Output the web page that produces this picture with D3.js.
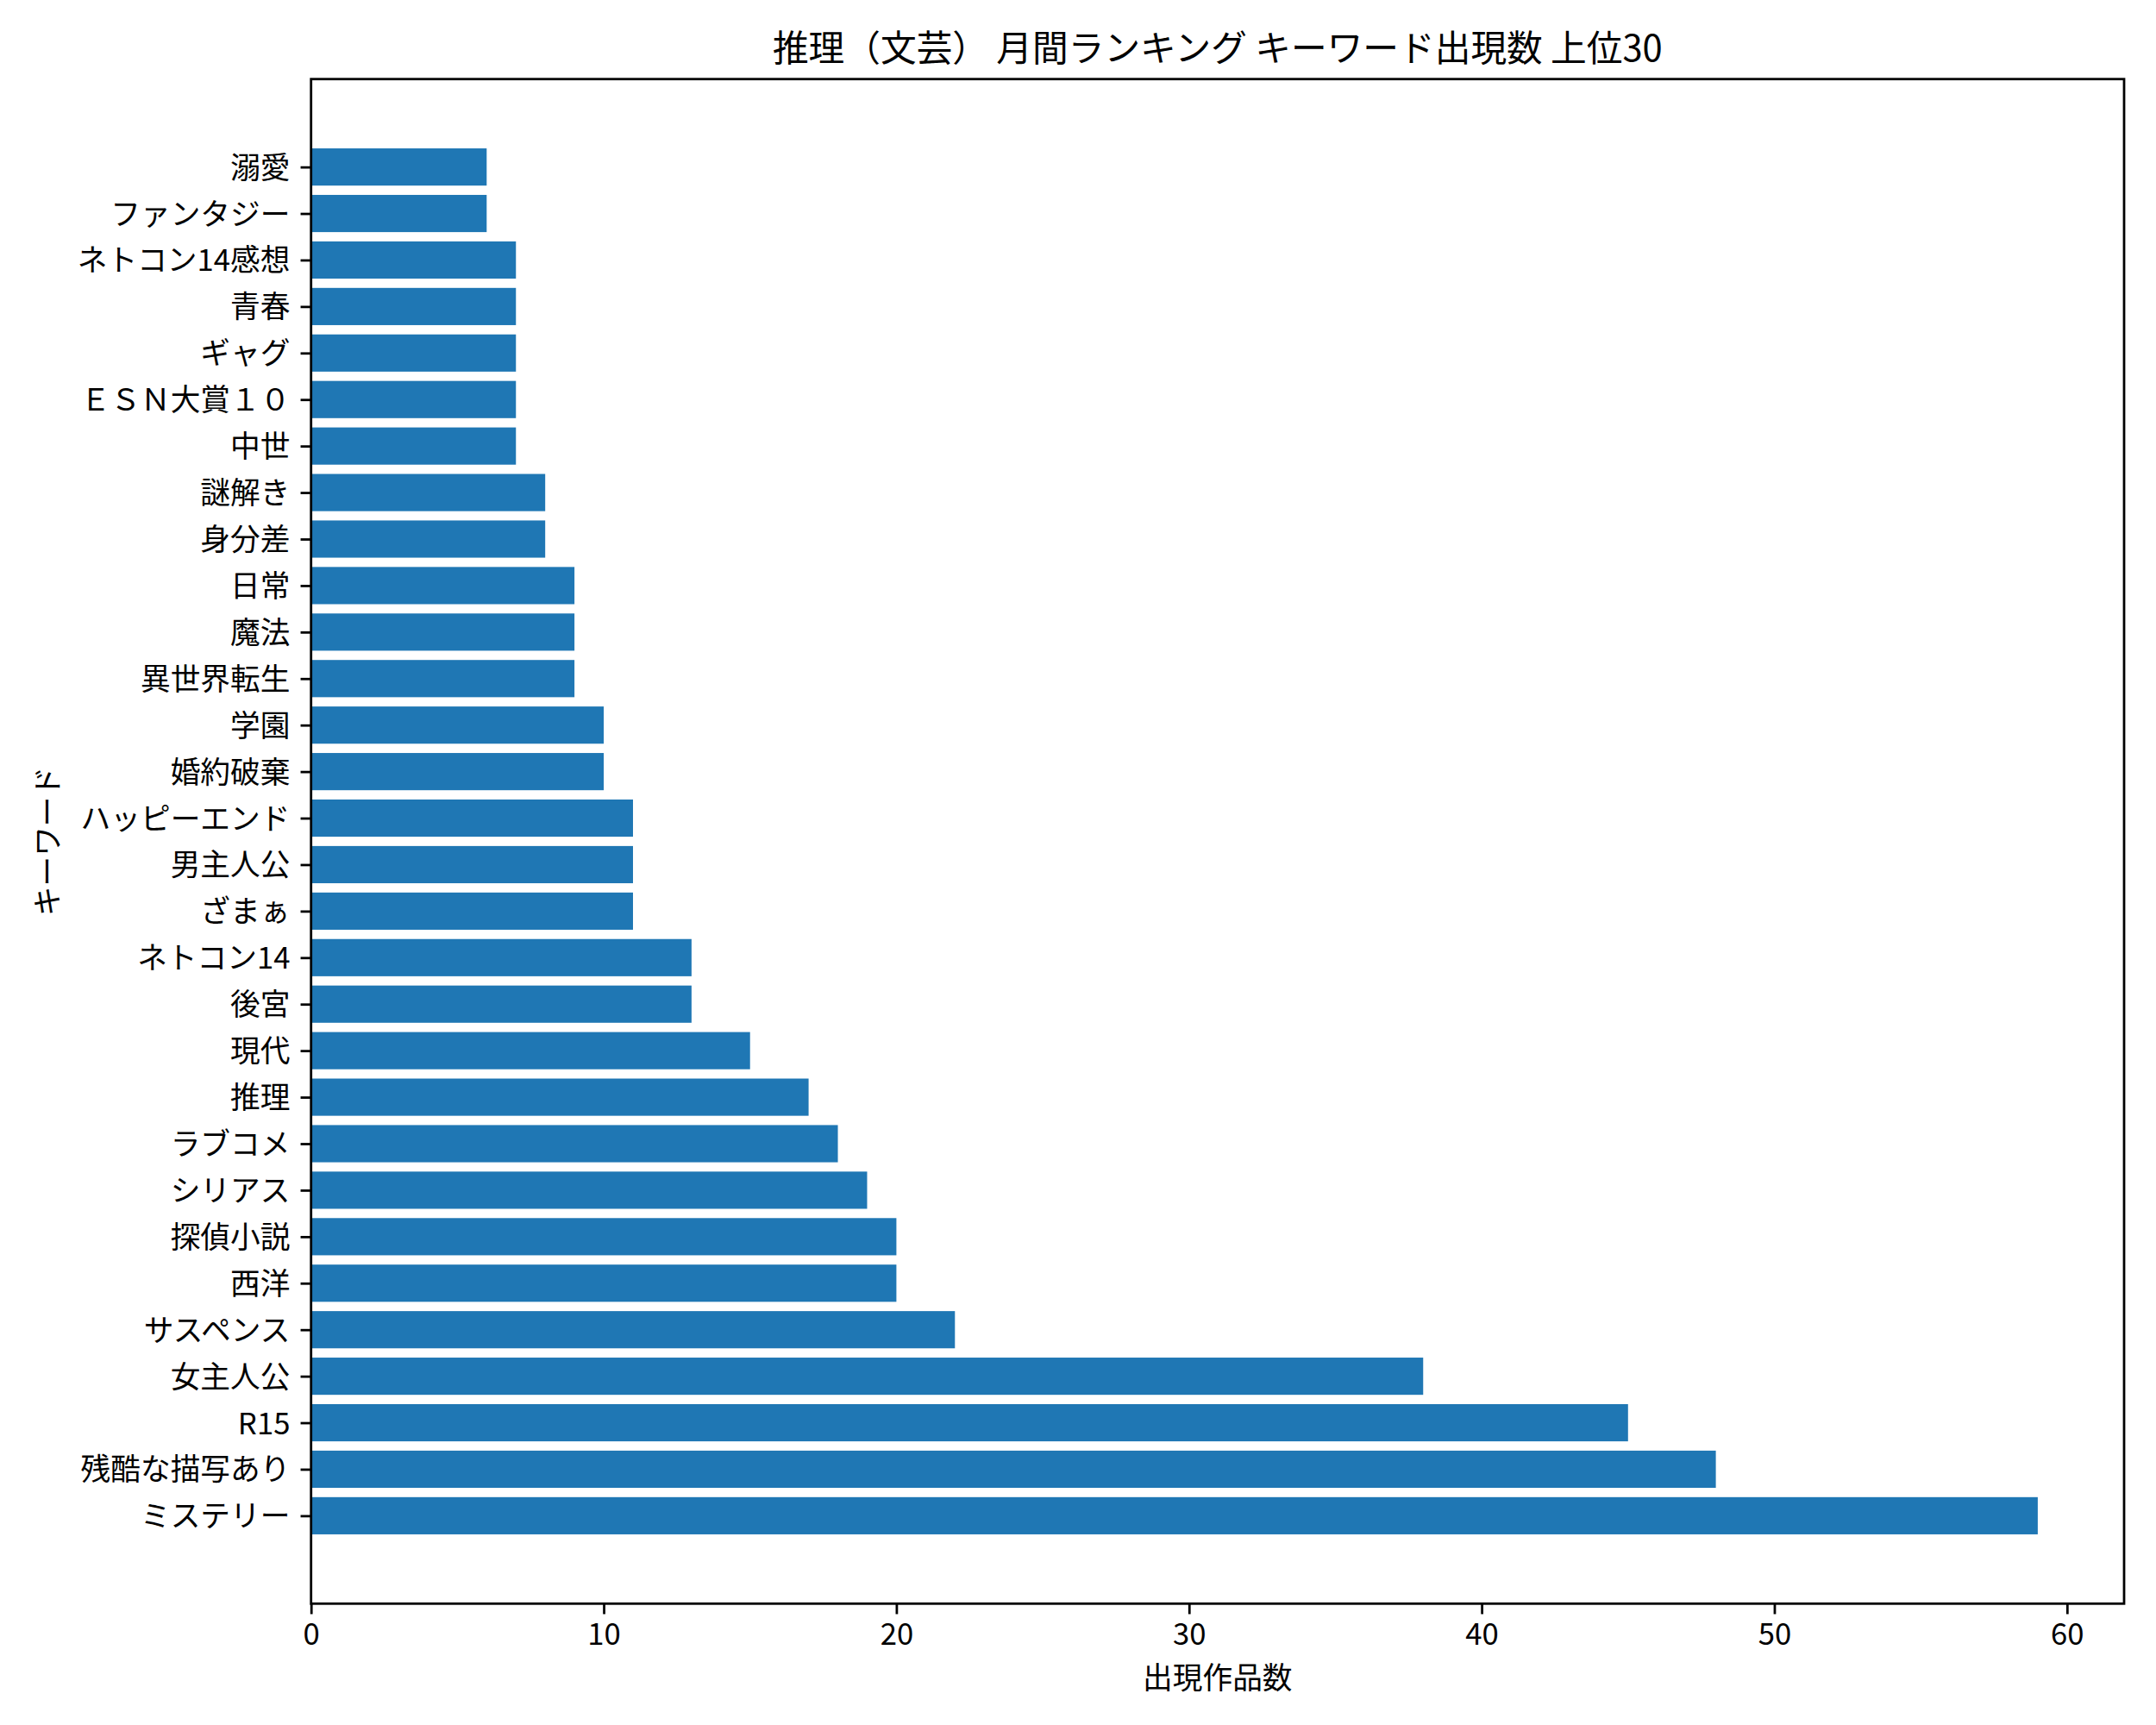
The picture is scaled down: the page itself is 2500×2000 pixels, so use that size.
<!DOCTYPE html>
<html>
<head>
<meta charset="utf-8">
<script src="https://cdn.jsdelivr.net/npm/d3@7"></script>
<style>
  html, body { margin: 0; padding: 0; background: #fff; }
  svg { display: block; }
  text { font-family: "Noto Sans CJK JP", "Noto Sans", sans-serif; fill: #000; }
</style>
</head>
<body>
<svg id="chart" width="2500" height="2000"></svg>
<script>
// Data (bottom to top as plotted)
const keywords = ["ミステリー","残酷な描写あり","R15","女主人公","サスペンス","西洋","探偵小説","シリアス","ラブコメ","推理",
  "現代","後宮","ネトコン14","ざまぁ","男主人公","ハッピーエンド","婚約破棄","学園","異世界転生","魔法",
  "日常","身分差","謎解き","中世","ＥＳＮ大賞１０","ギャグ","青春","ネトコン14感想","ファンタジー","溺愛"];
const counts = [59,48,45,38,22,20,20,19,18,17,
  15,13,13,11,11,11,10,10,9,9,
  9,8,8,7,7,7,7,7,6,6];
const xTicks = [0,10,20,30,40,50,60];
const titleText = "推理（文芸） 月間ランキング キーワード出現数 上位30";
const xLabel = "出現作品数";
const yLabel = "キーワード";

const W = 2500, H = 2000;
const m = {left: 360.7, right: 2463, top: 91.7, bottom: 1859.3};
const svg = d3.select("#chart");

const barH = 0.8;
const n = keywords.length;
const yMin = -barH/2, yMax = (n-1) + barH/2;
const yPad = (yMax - yMin) * 0.05;
const xMax = d3.max(counts);

const x = d3.scaleLinear().domain([0, xMax * 1.05]).range([m.left, m.right]);
const y = d3.scaleLinear().domain([yMin - yPad, yMax + yPad]).range([m.bottom, m.top]);

const data = keywords.map((k, i) => ({k, v: counts[i], i}));

// bars
svg.append("g").selectAll("rect").data(data).enter().append("rect")
  .attr("x", x(0))
  .attr("y", d => y(d.i + barH/2))
  .attr("width", d => x(d.v) - x(0))
  .attr("height", d => y(d.i - barH/2) - y(d.i + barH/2))
  .attr("fill", "#1f77b4");

const fs = 34.7;
const tickLen = 12.15, tickPad = 12.15, lw = 2.78;

// x axis
const xAxis = d3.axisBottom(x).tickValues(xTicks).tickSize(tickLen).tickPadding(tickPad).tickFormat(d3.format("d"));
const gx = svg.append("g").attr("transform", `translate(0,${m.bottom})`).call(xAxis);
gx.select(".domain").remove();
gx.selectAll(".tick line").attr("stroke", "#000").attr("stroke-width", lw);
gx.selectAll(".tick text").style("font-size", fs + "px").attr("fill", "#000")
  .attr("y", 0).attr("dy", 0).attr("transform", `translate(0,${tickLen + tickPad + 23})`);

// y axis
const yAxis = d3.axisLeft(y).tickValues(d3.range(n)).tickSize(tickLen).tickPadding(tickPad).tickFormat(i => keywords[i]);
const gy = svg.append("g").attr("transform", `translate(${m.left},0)`).call(yAxis);
gy.select(".domain").remove();
gy.selectAll(".tick line").attr("stroke", "#000").attr("stroke-width", lw);
gy.selectAll(".tick text").style("font-size", fs + "px").attr("fill", "#000").attr("dy", "0.36em");

// frame
svg.append("rect")
  .attr("x", m.left).attr("y", m.top)
  .attr("width", m.right - m.left).attr("height", m.bottom - m.top)
  .attr("fill", "none").attr("stroke", "#000").attr("stroke-width", lw);

// title
svg.append("text")
  .attr("x", (m.left + m.right)/2).attr("y", 70.5)
  .attr("text-anchor", "middle")
  .style("font-size", "41.7px")
  .text(titleText);

// x label
svg.append("text")
  .attr("x", (m.left + m.right)/2).attr("y", 1958)
  .attr("text-anchor", "middle")
  .style("font-size", fs + "px")
  .text(xLabel);

// y label
svg.append("text")
  .attr("transform", `translate(${68},${(m.top + m.bottom)/2}) rotate(-90)`)
  .attr("text-anchor", "middle")
  .style("font-size", fs + "px")
  .text(yLabel);
</script>
</body>
</html>
